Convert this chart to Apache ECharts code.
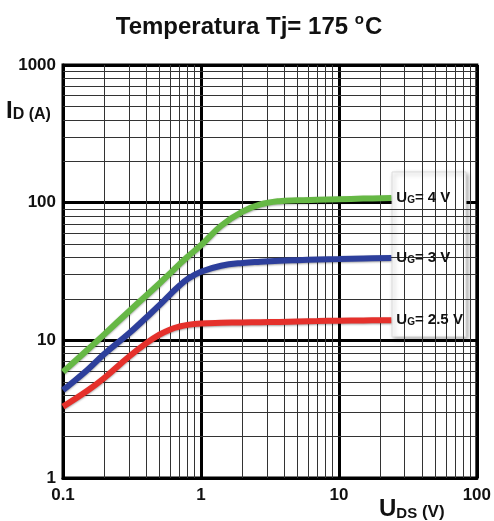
<!DOCTYPE html>
<html>
<head>
<meta charset="utf-8">
<script src="https://cdn.jsdelivr.net/npm/echarts@6/dist/echarts.min.js"></script>
<style>
html,body{margin:0;padding:0;background:#fff;}
#c{width:494px;height:521px;}
</style>
</head>
<body>
<div id="c"></div>
<script>
// Data
var uds = [0.1, 0.15, 0.2, 0.3, 0.4, 0.5, 0.6, 0.7, 0.8, 1.0, 1.4, 2, 2.7, 3.7, 5, 7, 10, 15, 24];
var id_ug4  = [5.9, 8.5, 11.1, 16.2, 21.1, 25.9, 30.8, 35.8, 40.5, 49, 68, 86, 97, 102.5, 104, 105, 106, 107, 108];
var id_ug3  = [4.35, 6.1, 8.0, 11.2, 14.6, 18.0, 21.6, 25.0, 27.9, 31.5, 34.8, 36.5, 37.2, 37.8, 38.2, 38.6, 38.9, 39.3, 39.6];
var id_ug25 = [3.3, 4.3, 5.35, 7.6, 9.5, 11.0, 12.0, 12.6, 12.95, 13.25, 13.4, 13.5, 13.55, 13.6, 13.7, 13.8, 13.9, 13.95, 14.0];
var seriesNames = ['4 V', '3 V', '2.5 V'];
var xMinor = [0.2,0.3,0.4,0.5,0.6,0.7,0.8,0.9, 2,3,4,5,6,7,8,9, 20,30,40,50,60,70,80,90];
var yMinor = [2,3,4,5,6,7,8,9, 20,30,40,50,60,70,80,90, 200,300,400,500,600,700,800,900];

function pairs(xs, ys){ return xs.map(function(x,i){ return [x, ys[i]]; }); }

var FONT = '"Liberation Sans", Arial, sans-serif';
var chart = echarts.init(document.getElementById('c'), null, {renderer:'canvas'});

function lineSeries(name, vals, color){
  return {
    type: 'line', name: name, z: 5,
    data: pairs(uds, vals),
    smooth: 0.4, showSymbol: false, symbol: 'none',
    lineStyle: {color: color, width: 6, shadowBlur: 2, shadowColor: 'rgba(0,0,0,0.35)', shadowOffsetY: 1, cap: 'butt'},
    endLabel: {
      show: true, distance: 5,
      formatter: function(){ return '{u|U}{s|G}{t|= ' + name + '}'; },
      rich: {
        u: {fontFamily: FONT, fontWeight: 'bold', fontSize: 15, color: '#111', verticalAlign: 'bottom', lineHeight: 15},
        s: {fontFamily: FONT, fontWeight: 'bold', fontSize: 10, color: '#111', verticalAlign: 'bottom', lineHeight: 12},
        t: {fontFamily: FONT, fontWeight: 'bold', fontSize: 15, color: '#111', verticalAlign: 'bottom', lineHeight: 15}
      }
    }
  };
}

var option = {
  animation: false,
  backgroundColor: '#fff',
  grid: {left: 63, right: 16, top: 65, bottom: 43, show: true, borderColor: '#000', borderWidth: 3, backgroundColor: 'transparent'},
  title: {
    text: '{a|Temperatura T}{a|j}{a|= 175 }{o|o}{a|C}',
    left: 244, top: 7, textAlign: 'center',
    textStyle: {
      rich: {
        a: {fontFamily: FONT, fontWeight: 'bold', fontSize: 24, color: '#111', verticalAlign: 'bottom', lineHeight: 27},
        o: {fontFamily: FONT, fontWeight: 'bold', fontSize: 15, color: '#111', verticalAlign: 'top', lineHeight: 14, padding: [0, 1, 0, 0]}
      }
    }
  },
  xAxis: {
    type: 'log', logBase: 10, min: 0.1, max: 100,
    axisLine: {show: true, lineStyle: {color: '#000', width: 3}},
    axisTick: {show: false},
    splitLine: {show: true, lineStyle: {color: '#000', width: 3}},
    axisLabel: {fontFamily: FONT, fontWeight: 'bold', fontSize: 17, color: '#111', margin: 9,
      formatter: function(v){ return String(v); }}
  },
  yAxis: {
    type: 'log', logBase: 10, min: 1, max: 1000,
    axisLine: {show: true, lineStyle: {color: '#000', width: 3}},
    axisTick: {show: false},
    splitLine: {show: true, lineStyle: {color: '#000', width: 3}},
    axisLabel: {fontFamily: FONT, fontWeight: 'bold', fontSize: 17, color: '#111', margin: 7,
      formatter: function(v){ return String(v); }}
  },
  graphic: [
    {type: 'text', left: 6, top: 99, z: 10, style: {
      text: '{i|I}{d|D (A)}',
      rich: {
        i: {fontFamily: FONT, fontWeight: 'bold', fontSize: 24, fill: '#111', verticalAlign: 'bottom', lineHeight: 24},
        d: {fontFamily: FONT, fontWeight: 'bold', fontSize: 16, fill: '#111', verticalAlign: 'bottom', lineHeight: 17}
      }
    }},
    {type: 'text', left: 379, top: 497, z: 10, style: {
      text: '{i|U}{d|DS}{v| (V)}',
      rich: {
        i: {fontFamily: FONT, fontWeight: 'bold', fontSize: 24, fill: '#111', verticalAlign: 'bottom', lineHeight: 24},
        d: {fontFamily: FONT, fontWeight: 'bold', fontSize: 15, fill: '#111', verticalAlign: 'bottom', lineHeight: 16},
        v: {fontFamily: FONT, fontWeight: 'bold', fontSize: 17, fill: '#111', verticalAlign: 'bottom', lineHeight: 18}
      }
    }}
  ],
  series: [
    {
      type: 'line', data: [], z: 1, silent: true,
      markLine: {
        silent: true, symbol: ['none', 'none'], animation: false,
        label: {show: false},
        lineStyle: {type: 'solid', color: '#333', width: 1},
        emphasis: {disabled: true},
        data: xMinor.map(function(v){ return {xAxis: v}; }).concat(yMinor.map(function(v){ return {yAxis: v}; }))
      }
    },
    {
      type: 'line', data: [], z: 2, silent: true,
      markArea: {
        silent: true,
        itemStyle: {color: '#fff', borderColor: '#ddd', borderWidth: 1, shadowBlur: 4, shadowColor: 'rgba(0,0,0,0.3)', shadowOffsetX: 2, shadowOffsetY: 2},
        data: [[{xAxis: 24.3, yAxis: 167}, {xAxis: 83.4, yAxis: 10.6}]]
      }
    },
    lineSeries(seriesNames[0], id_ug4, '#66b845'),
    lineSeries(seriesNames[1], id_ug3, '#2d3f9c'),
    lineSeries(seriesNames[2], id_ug25, '#e5302b')
  ]
};
chart.setOption(option);
</script>
</body>
</html>
